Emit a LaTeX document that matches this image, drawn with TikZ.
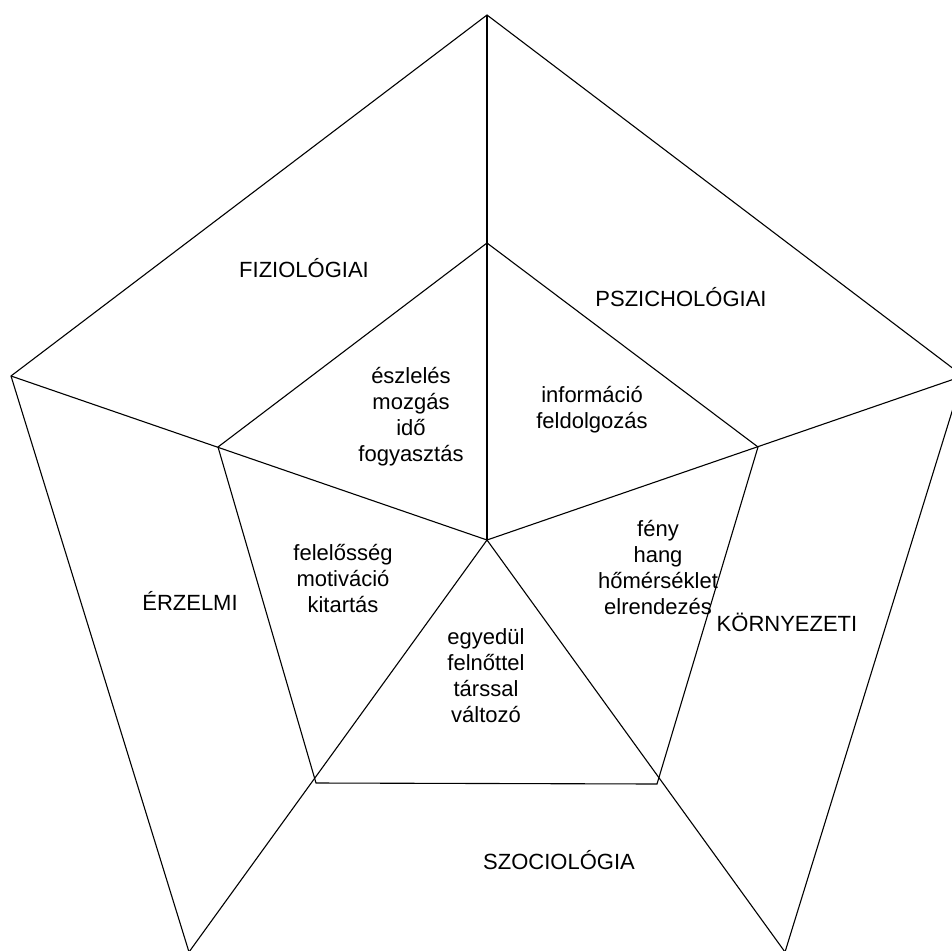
\documentclass[tikz,border=0pt]{standalone}
\usepackage{fontspec}
\setmainfont{Liberation Sans}
\begin{document}
\begin{tikzpicture}[x=1pt,y=-1pt,
  edge/.style={draw=black,line width=1.1pt,line join=miter},
  lbl/.style={align=center,font=\fontsize{22}{26}\selectfont,inner sep=0pt}]
\useasboundingbox (0,0) rectangle (952,950);
% centre of both pentagons
\coordinate (c) at (487,540);
% outer pentagon (its lower edge lies beyond the page)
\coordinate (oT) at (487,15);
\coordinate (oL) at (11,376);
\coordinate (oR) at (963,376);
\coordinate (oBL) at (189,952);
\coordinate (oBR) at (785,952);
% inner pentagon
\coordinate (iT) at (487,243);
\coordinate (iL) at (218,447);
\coordinate (iR) at (758,447);
\coordinate (iBL) at (316,783);
\coordinate (iBR) at (657,784);
\draw[edge] (oBL) -- (oL) -- (oT) -- (oR) -- (oBR);
\draw[edge] (iT) -- (iR) -- (iBR) -- (iBL) -- (iL) -- cycle;
% spokes from the centre to the outer corners
\draw[edge] (c) -- (oT);
\draw[edge] (c) -- (oL);
\draw[edge] (c) -- (oR);
\draw[edge] (c) -- (oBL);
\draw[edge] (c) -- (oBR);
% outer ring labels
\node[lbl] (fiz) at (304,268) {FIZIOLÓGIAI};
\node[lbl] (psz) at (681,297) {PSZICHOLÓGIAI};
\node[lbl] (erz) at (190,601) {ÉRZELMI};
\node[lbl] (kor) at (787,622) {KÖRNYEZETI};
\node[lbl] (szo) at (559,860) {SZOCIOLÓGIA};
% inner ring labels
\node[lbl] (fizin) at (411,417) {észlelés\\mozgás\\idő\\fogyasztás};
\node[lbl] (pszin) at (592,410) {információ\\feldolgozás};
\node[lbl] (korin) at (658,567) {fény\\hang\\hőmérséklet\\elrendezés};
\node[lbl] (erzin) at (343,578) {felelősség\\motiváció\\kitartás};
\node[lbl] (szoin) at (486,676) {egyedül\\felnőttel\\társsal\\változó};
\end{tikzpicture}
\end{document}
